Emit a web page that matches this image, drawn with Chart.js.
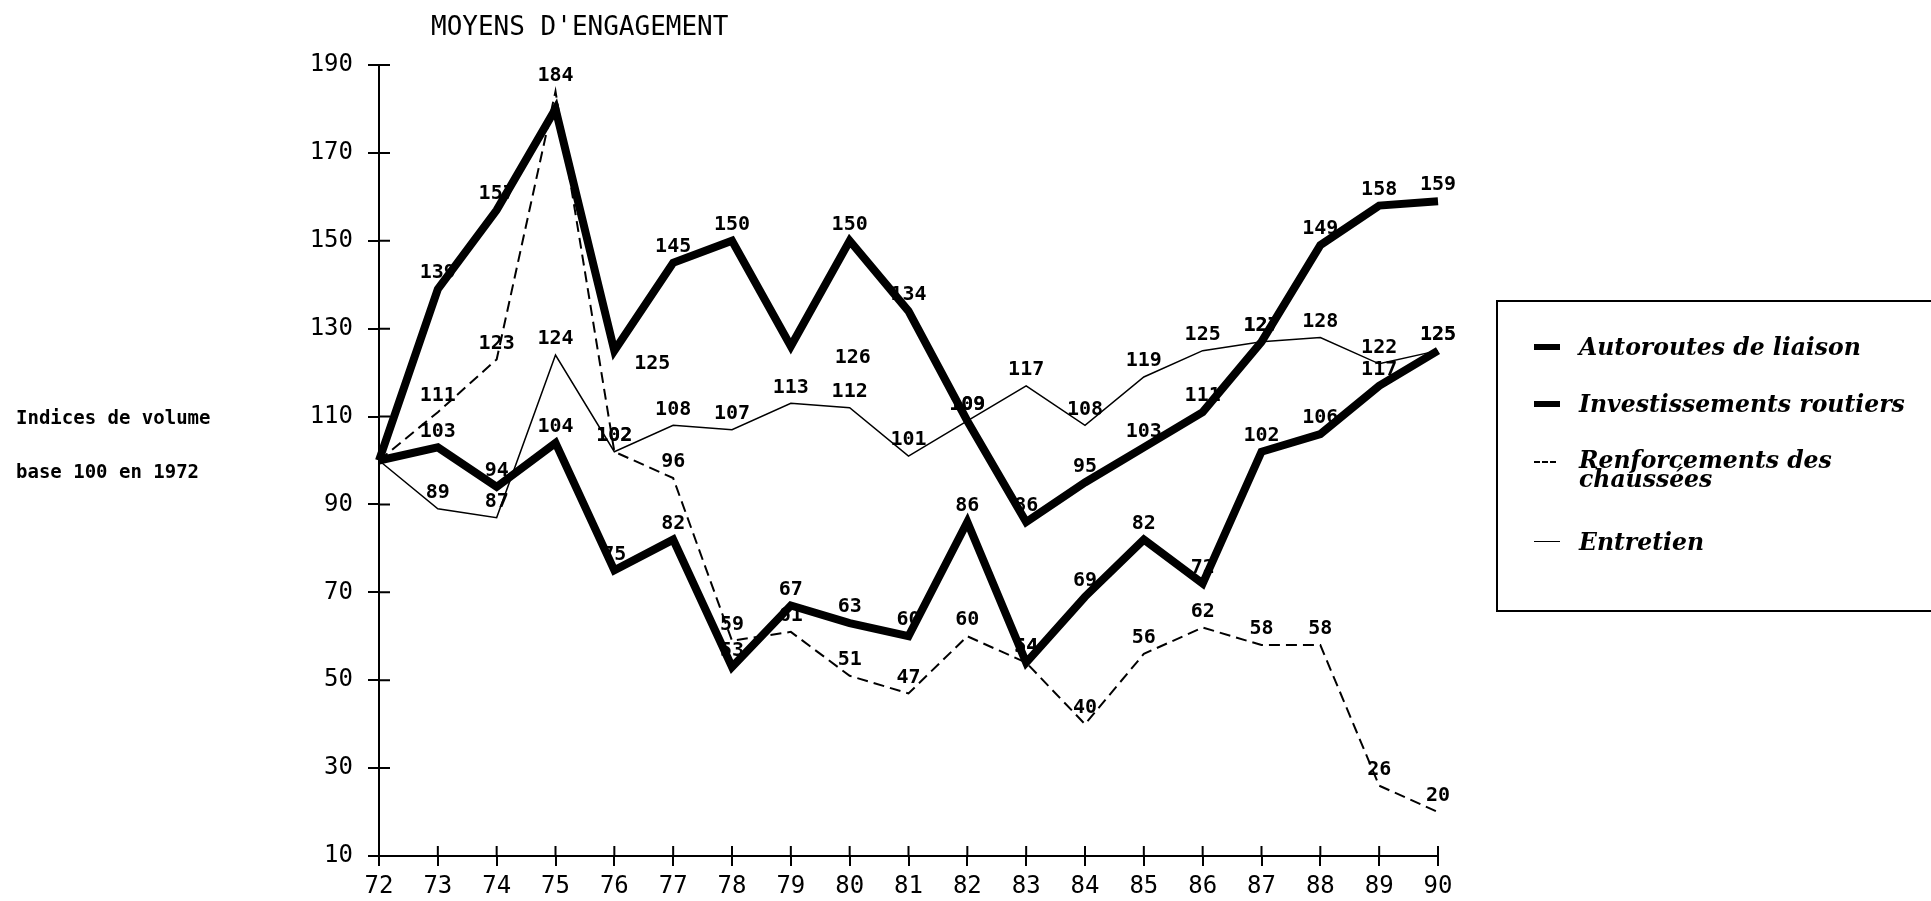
<!DOCTYPE html>
<html lang="fr">
<head>
<meta charset="utf-8">
<title>Moyens d'engagement</title>
<script src="https://cdn.jsdelivr.net/npm/chart.js@4.4.1/dist/chart.umd.min.js"></script>
<style>
  html, body { margin: 0; padding: 0; background: #fff; }
  #wrap { position: relative; width: 1931px; height: 901px; overflow: hidden; }
  canvas { position: absolute; left: 0; top: 0; }
  .txt { position: absolute; color: #000; white-space: nowrap; font-family: 'DejaVu Sans Mono', monospace; }
  #titre { left: 431px; top: 11px; font-size: 26px; }
  #axe1 { left: 16px; top: 406px; font-size: 19px; font-weight: bold; }
  #axe2 { left: 16px; top: 460px; font-size: 19px; font-weight: bold; }
  #legende { position: absolute; left: 1496px; top: 300px; width: 460px; height: 308px; border: 2px solid #000; }
  .item { position: absolute; left: 36px; font-family: 'DejaVu Serif', serif; font-style: italic; font-weight: bold; font-size: 23.5px; line-height: 22px; }
  .trait { position: absolute; left: 0; width: 26px; }
  .item span.lib { position: absolute; left: 45px; top: 0; white-space: nowrap; }
</style>
</head>
<body>
<div id="wrap">
  <canvas id="graphique" width="1931" height="901"></canvas>
  <div class="txt" id="titre">MOYENS D'ENGAGEMENT</div>
  <div class="txt" id="axe1">Indices de volume</div>
  <div class="txt" id="axe2">base 100 en 1972</div>
  <div id="legende">
    <div class="item" style="top:34px"><div class="trait" style="top:8px;border-top:6px solid #000"></div><span class="lib">Autoroutes de liaison</span></div>
    <div class="item" style="top:91px"><div class="trait" style="top:8px;border-top:6px solid #000"></div><span class="lib">Investissements routiers</span></div>
    <div class="item" style="top:149px"><div class="trait" style="top:10px;border-top:2px dashed #000;width:22px"></div><span class="lib" style="line-height:19px">Renforcements des<br>chaussées</span></div>
    <div class="item" style="top:229px"><div class="trait" style="top:10px;border-top:1.5px solid #000"></div><span class="lib">Entretien</span></div>
  </div>
</div>
<script>
// Années (axe horizontal) et graduations de l'axe vertical.
const ANNEES = ['72', '73', '74', '75', '76', '77', '78', '79', '80', '81',
                '82', '83', '84', '85', '86', '87', '88', '89', '90'];
const Y_MIN = 10;
const Y_MAX = 190;
const Y_PAS = 20;

// Indices de volume, base 100 en 1972.
const AUTOROUTES = [100, 139, 157, 180, 125, 145, 150, 126, 150, 134,
                    109, 86, 95, 103, 111, 127, 149, 158, 159];
const INVESTISSEMENTS = [100, 103, 94, 104, 75, 82, 53, 67, 63, 60,
                         86, 54, 69, 82, 72, 102, 106, 117, 125];
const RENFORCEMENTS = [100, 111, 123, 184, 102, 96, 59, 61, 51, 47,
                      60, 54, 40, 56, 62, 58, 58, 26, 20];
const ENTRETIEN = [100, 89, 87, 124, 102, 108, 107, 113, 112, 101,
                   109, 117, 108, 119, 125, 127, 128, 122, 125];

const POLICE = "'DejaVu Sans Mono', monospace";

// Étiquettes de valeur au-dessus de chaque point (sauf celles absentes de l'original).
const etiquettes = {
    id: 'etiquettes',
    afterDatasetsDraw(chart) {
        const c = chart.ctx;
        c.save();
        c.fillStyle = '#000';
        c.font = 'bold 20px ' + POLICE;
        c.textAlign = 'center';
        c.textBaseline = 'middle';
        chart.data.datasets.forEach((ds, i) => {
            const meta = chart.getDatasetMeta(i);
            const sauter = ds.sansEtiquette || [];
            const decal = ds.decalEtiquette || {};
            meta.data.forEach((pt, j) => {
                if (j === 0 || sauter.includes(j)) return;
                const d = decal[j] || [0, 0];
                c.fillText(String(ds.data[j]), pt.x + d[0], pt.y - 16 + d[1]);
            });
        });
        c.restore();
    },
};

// Petites graduations qui traversent les axes (côté intérieur).
const graduations = {
    id: 'graduations',
    afterDraw(chart) {
        const c = chart.ctx;
        const { x, y } = chart.scales;
        c.save();
        c.strokeStyle = '#000';
        c.lineWidth = 2;
        c.beginPath();
        y.ticks.forEach((t, i) => {
            const py = y.getPixelForTick(i);
            c.moveTo(y.right, py);
            c.lineTo(y.right + 11, py);
        });
        x.ticks.forEach((t, i) => {
            const px = x.getPixelForTick(i);
            c.moveTo(px, x.top);
            c.lineTo(px, x.top - 10);
        });
        c.stroke();
        c.restore();
    },
};

const base = {
    borderColor: '#000',
    backgroundColor: '#000',
    pointRadius: 0,
    tension: 0,
    fill: false,
    borderJoinStyle: 'miter',
    borderCapStyle: 'butt',
};

new Chart(document.getElementById('graphique'), {
    type: 'line',
    data: {
        labels: ANNEES,
        datasets: [
            {
                ...base,
                label: 'Autoroutes de liaison',
                data: AUTOROUTES,
                borderWidth: 8,
                sansEtiquette: [3],
                decalEtiquette: { 4: [38, 29], 7: [62, 28] },
            },
            { ...base, label: 'Investissements routiers', data: INVESTISSEMENTS, borderWidth: 8 },
            { ...base, label: 'Renforcements des chaussées', data: RENFORCEMENTS, borderWidth: 2, borderDash: [11, 6] },
            { ...base, label: 'Entretien', data: ENTRETIEN, borderWidth: 1.5 },
        ],
    },
    options: {
        responsive: false,
        animation: false,
        layout: { padding: { left: 0, top: 65, right: 493, bottom: 0 } },
        plugins: {
            legend: { display: false },
            title: { display: false },
            tooltip: { enabled: false },
        },
        scales: {
            x: {
                type: 'category',
                offset: false,
                grid: { drawOnChartArea: false, drawTicks: true, tickLength: 10, color: '#000', lineWidth: 2 },
                border: { display: true, color: '#000', width: 2 },
                ticks: { color: '#000', font: { family: POLICE, size: 24 }, padding: 6, maxRotation: 0, autoSkip: false },
                afterFit(s) { s.height = 45; },
            },
            y: {
                min: Y_MIN,
                max: Y_MAX,
                grid: { drawOnChartArea: false, drawTicks: true, tickLength: 11, color: '#000', lineWidth: 2 },
                border: { display: true, color: '#000', width: 2 },
                ticks: { stepSize: Y_PAS, color: '#000', font: { family: POLICE, size: 24 }, padding: 15 },
                afterFit(s) { s.width = 379; },
            },
        },
    },
    plugins: [etiquettes, graduations],
});
</script>
</body>
</html>
